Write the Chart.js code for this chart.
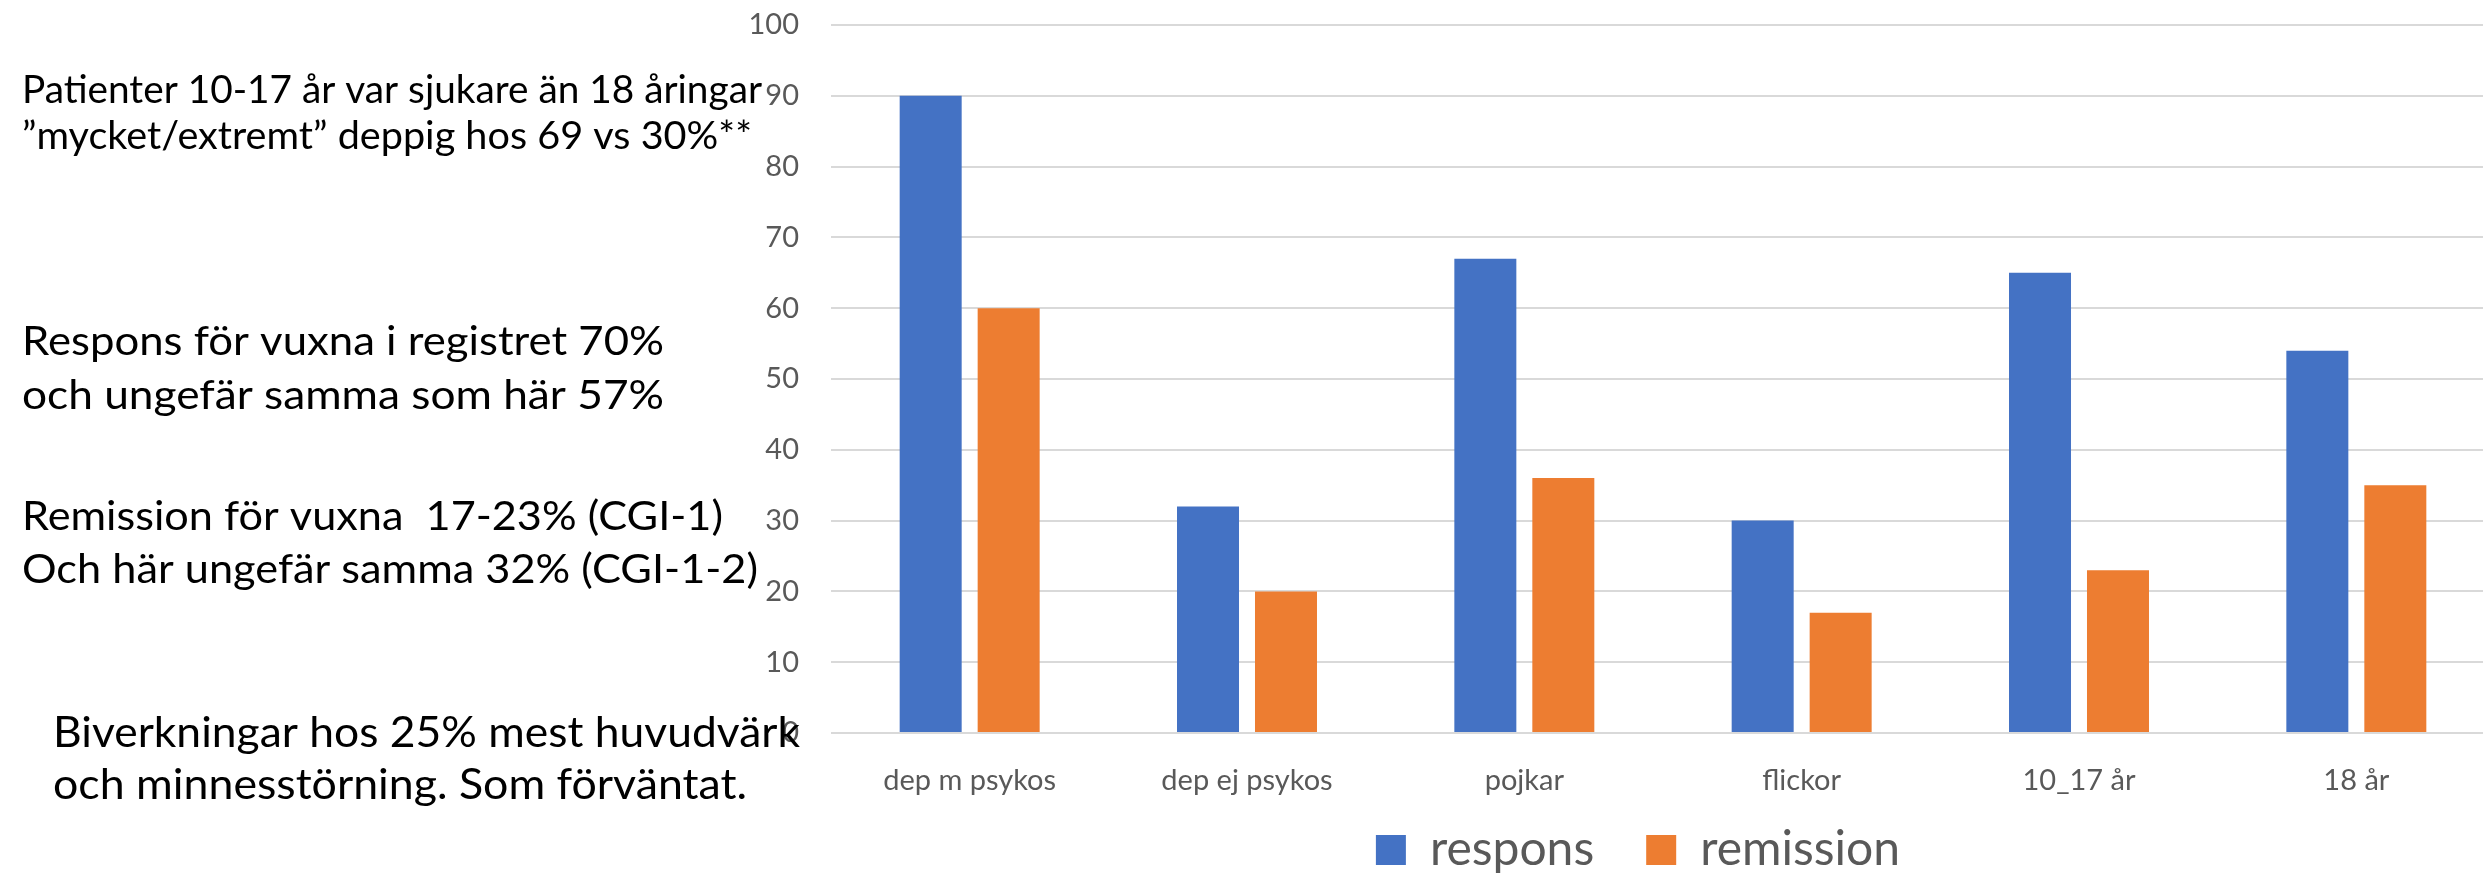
<!DOCTYPE html>
<html>
<head>
<meta charset="utf-8">
<script src="https://cdn.jsdelivr.net/npm/chart.js@4/dist/chart.umd.min.js"></script>
<style>
  html, body { margin: 0; padding: 0; background: #ffffff; overflow: hidden; }
  #wrap { position: relative; width: 2496px; height: 923px; }
  canvas { display: block; }
</style>
</head>
<body>
<div id="wrap"><canvas id="c" width="2496" height="923"></canvas></div>
<script>
// Grupper och andel patienter (%) med respons respektive remission
const categories = ['dep m psykos', 'dep ej psykos', 'pojkar', 'flickor', '10_17 år', '18 år'];
const responsValues = [90, 32, 67, 30, 65, 54];
const remissionValues = [60, 20, 36, 17, 23, 35];
const seriesNames = ['respons', 'remission'];
const yTicks = [0, 10, 20, 30, 40, 50, 60, 70, 80, 90, 100];

// Kommentarer till vänster om diagrammet
const noteLines = [
  'Patienter 10-17 år var sjukare än 18 åringar',
  '”mycket/extremt” deppig hos 69 vs 30%**',
  'Respons för vuxna i registret 70%',
  'och ungefär samma som här 57%',
  'Remission för vuxna  17-23% (CGI-1)',
  'Och här ungefär samma 32% (CGI-1-2)',
  'Biverkningar hos 25% mest huvudvärk',
  'och minnesstörning. Som förväntat.'
];

const FONT = 'Lato, "Open Sans", "Noto Sans", sans-serif';
const GREY = '#595959';

// Placering för varje kommentarsrad: vänsterkant, baslinje, teckenstorlek, radbredd
const noteLayout = [
  { x: 22, y: 103, size: 38, w: 740 },
  { x: 22, y: 149, size: 38, w: 730 },
  { x: 22, y: 355, size: 41, w: 642 },
  { x: 22, y: 409, size: 41, w: 642 },
  { x: 22, y: 530, size: 41, w: 701 },
  { x: 22, y: 583, size: 41, w: 736 },
  { x: 53, y: 747, size: 43, w: 747 },
  { x: 53, y: 799, size: 43, w: 694 }
];

const notesPlugin = {
  id: 'notes',
  afterDraw(chart) {
    const ctx = chart.ctx;
    ctx.save();
    ctx.fillStyle = '#000000';
    ctx.textAlign = 'left';
    ctx.textBaseline = 'alphabetic';
    noteLines.forEach((text, i) => {
      const L = noteLayout[i];
      ctx.font = L.size + 'px ' + FONT;
      const m = ctx.measureText(text).width;
      ctx.save();
      ctx.translate(L.x, L.y);
      ctx.scale(L.w / m, 1);
      ctx.fillText(text, 0, 0);
      ctx.restore();
    });
    ctx.restore();
  }
};

// Flyttar förklaringen upp under kategorietiketterna och centrerar den
const legendPlacement = {
  id: 'legendPlacement',
  afterLayout(chart) {
    const lg = chart.legend;
    if (!lg) return;
    const dy = 39, dx = 25;
    lg.top -= dy; lg.bottom -= dy;
    lg.left -= dx; lg.right -= dx;
  }
};

function build() {
  new Chart(document.getElementById('c'), {
    type: 'bar',
    data: {
      labels: categories,
      datasets: [
        { label: seriesNames[0], data: responsValues, backgroundColor: '#4472C4', borderWidth: 0 },
        { label: seriesNames[1], data: remissionValues, backgroundColor: '#ED7D31', borderWidth: 0 }
      ]
    },
    options: {
      responsive: false,
      animation: false,
      devicePixelRatio: 1,
      layout: { padding: { top: 25, right: 1, left: 0, bottom: 0 } },
      datasets: { bar: { categoryPercentage: 0.5624, barPercentage: 0.795 } },
      scales: {
        x: {
          grid: { display: false, drawTicks: false },
          border: { display: false },
          ticks: { color: GREY, font: { family: FONT, size: 29 }, padding: 30, maxRotation: 0 },
          afterFit(s) { s.height = 80; }
        },
        y: {
          min: 0, max: 100,
          afterBuildTicks(s) { s.ticks = yTicks.map(v => ({ value: v })); },
          grid: { color: '#D9D9D9', lineWidth: 2, drawTicks: false },
          border: { display: false },
          ticks: { color: GREY, font: { family: FONT, size: 29 }, padding: 32 },
          afterFit(s) { s.width = 831; s.paddingTop = 18; s.paddingBottom = 18; }
        }
      },
      plugins: {
        tooltip: { enabled: false },
        legend: {
          position: 'bottom',
          fullSize: false,
          labels: {
            color: GREY,
            font: { family: FONT, size: 48 },
            boxWidth: 30, boxHeight: 30,
            padding: 52
          }
        }
      }
    },
    plugins: [notesPlugin, legendPlacement]
  });
}

if (document.fonts && document.fonts.load) {
  Promise.all([
    document.fonts.load('38px Lato'),
    document.fonts.load('48px Lato')
  ]).then(build, build);
} else {
  build();
}
</script>
</body>
</html>
